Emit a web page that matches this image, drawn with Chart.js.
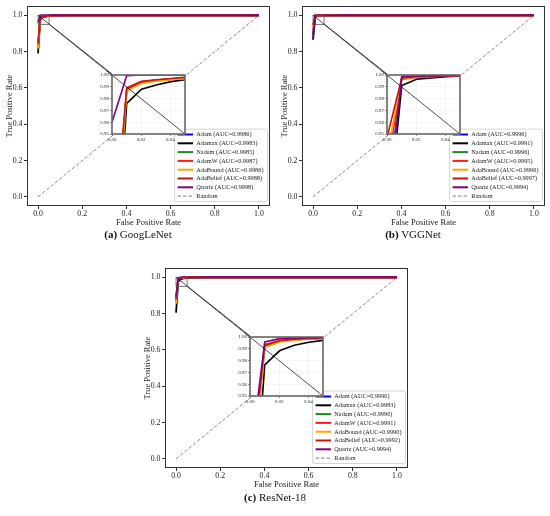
<!DOCTYPE html>
<html lang="en">
<head>
<meta charset="UTF-8">
<title>ROC curves</title>
<script src="https://cdn.jsdelivr.net/npm/chart.js"></script>
<style>
    body { margin: 0; background: #fff; }
    #fig { position: relative; width: 550px; height: 516px; overflow: hidden; }
    .panel { position: absolute; width: 275px; height: 232px; }
    .panel canvas { position: absolute; left: 0; top: 0; }
    .caption {
        position: absolute;
        width: 200px;
        margin-left: -100px;
        text-align: center;
        font-family: 'Liberation Serif', serif;
        font-size: 11px;
        line-height: 12px;
        color: #111;
    }
</style>
</head>
<body>
<div id="fig">
    <div class="panel" id="panelA" style="left:0;top:0"><canvas id="mainA" width="275" height="232"></canvas></div>
    <div class="panel" id="panelB" style="left:275px;top:0"><canvas id="mainB" width="275" height="232"></canvas></div>
    <div class="panel" id="panelC" style="left:138px;top:262px"><canvas id="mainC" width="275" height="232"></canvas></div>
    <div class="caption" style="left:138px;top:228px"><b>(a)</b> GoogLeNet</div>
    <div class="caption" style="left:413px;top:228px"><b>(b)</b> VGGNet</div>
    <div class="caption" style="left:275px;top:491px"><b>(c)</b> ResNet-18</div>
</div>
<script>
// ---- data ----
const optimizers = ['Adam', 'Adamax', 'Nadam', 'AdamW', 'AdaBound', 'AdaBelief', 'Quartz'];
const lineColors = ['#0000ff', '#000000', '#1a8c1a', '#ff1a1a', '#ffa500', '#c01818', '#800080'];
const fpr = [0, 0.0101, 0.0202, 0.0303, 0.0404, 0.0505, 0.0707, 0.101, 0.141, 1];
const randomFpr = [0, 1];
const randomTpr = [0, 1];

// (a) GoogLeNet
const googAuc = ['0.9986', '0.9983', '0.9985', '0.9987', '0.9986', '0.9988', '0.9998'];
const googAdam      = [0.82, 0.988, 0.994, 0.9955, 0.9965, 0.9975, 0.9983, 0.9992, 1, 1];
const googAdamax    = [0.79, 0.976, 0.988, 0.9916, 0.9944, 0.9962, 0.9975, 0.9988, 1, 1];
const googNadam     = [0.81, 0.987, 0.993, 0.995, 0.9962, 0.9972, 0.998, 0.999, 1, 1];
const googAdamW     = [0.83, 0.9885, 0.9942, 0.9958, 0.9968, 0.9978, 0.9985, 0.9993, 1, 1];
const googAdaBound  = [0.82, 0.9865, 0.9928, 0.9948, 0.996, 0.997, 0.998, 0.999, 1, 1];
const googAdaBelief = [0.845, 0.9892, 0.9946, 0.996, 0.997, 0.998, 0.9988, 0.9995, 1, 1];
const googQuartz    = [0.96, 0.9995, 1, 1, 1, 1, 1, 1, 1, 1];

// (b) VGGNet
const vggAuc = ['0.9996', '0.9991', '0.9996', '0.9995', '0.9996', '0.9997', '0.9994'];
const vggAdam      = [0.895, 0.998, 0.9985, 0.999, 0.9992, 0.9994, 0.9996, 0.9998, 1, 1];
const vggAdamax    = [0.865, 0.9911, 0.9964, 0.9976, 0.9986, 0.9992, 0.9995, 0.9998, 1, 1];
const vggNadam     = [0.893, 0.9978, 0.9984, 0.9988, 0.9991, 0.9993, 0.9996, 0.9998, 1, 1];
const vggAdamW     = [0.921, 0.9965, 0.998, 0.9986, 0.999, 0.9993, 0.9996, 0.9998, 1, 1];
const vggAdaBound  = [0.933, 0.997, 0.9982, 0.9988, 0.9991, 0.9994, 0.9996, 0.9998, 1, 1];
const vggAdaBelief = [0.947, 0.9975, 0.9985, 0.999, 0.9993, 0.9995, 0.9997, 0.9999, 1, 1];
const vggQuartz    = [0.879, 0.9989, 0.9992, 0.9994, 0.9995, 0.9996, 0.9997, 0.9998, 1, 1];

// (c) ResNet-18
const resAuc = ['0.9990', '0.9983', '0.9990', '0.9991', '0.9990', '0.9992', '0.9994'];
const resAdam      = [0.87, 0.9925, 0.9965, 0.9978, 0.9985, 0.999, 0.9994, 0.9997, 1, 1];
const resAdamax    = [0.805, 0.9763, 0.9883, 0.993, 0.9955, 0.9972, 0.9985, 0.9993, 1, 1];
const resNadam     = [0.865, 0.992, 0.9963, 0.9977, 0.9984, 0.9989, 0.9993, 0.9997, 1, 1];
const resAdamW     = [0.875, 0.993, 0.9968, 0.998, 0.9986, 0.999, 0.9994, 0.9997, 1, 1];
const resAdaBound  = [0.855, 0.991, 0.9955, 0.9972, 0.9982, 0.9987, 0.9992, 0.9996, 1, 1];
const resAdaBelief = [0.88, 0.9935, 0.997, 0.9982, 0.9988, 0.9992, 0.9995, 0.9998, 1, 1];
const resQuartz    = [0.895, 0.9958, 0.9986, 0.9992, 0.9995, 0.9997, 0.9998, 0.9999, 1, 1];

// ticks and zoom window
const mainTicks = [0, 0.2, 0.4, 0.6, 0.8, 1.0];
const mainTickLabels = ['0.0', '0.2', '0.4', '0.6', '0.8', '1.0'];
const zoomX = [0, 0.05];
const zoomY = [0.95, 1.0];
const insetTicksX = [0, 0.02, 0.04];
const insetTickLabelsX = ['0.00', '0.02', '0.04'];
const insetTicksY = [0.95, 0.96, 0.97, 0.98, 0.99, 1.0];
const insetTickLabelsY = ['0.95', '0.96', '0.97', '0.98', '0.99', '1.00'];

// ---- layout ----
const serif = "'Liberation Serif', 'Times New Roman', serif";
const insetBounds = [0.35, 0.36, 0.3, 0.3];   // axes fraction: left, bottom, width, height
const inPad = { l: 20, t: 3, r: 3, b: 10 };

function points(xs, ys) {
    return xs.map((x, i) => ({ x: x, y: ys[i] }));
}

function buildSets(curves, aucs, width, withRandom) {
    const sets = curves.map((ys, i) => ({
        label: optimizers[i] + ' (AUC=' + aucs[i] + ')',
        data: points(fpr, ys),
        borderColor: lineColors[i],
        borderWidth: width,
        pointRadius: 0,
        tension: 0,
        clip: 0,
        order: curves.length - i + 1
    }));
    if (withRandom) {
        sets.push({
            label: 'Random',
            data: points(randomFpr, randomTpr),
            borderColor: '#808080',
            borderWidth: 0.9,
            borderDash: [3.5, 2],
            pointRadius: 0,
            order: 0
        });
    }
    return sets;
}

function insetRect(area) {
    const w = area.right - area.left, h = area.bottom - area.top;
    return {
        left: Math.round(area.left + insetBounds[0] * w),
        right: Math.round(area.left + (insetBounds[0] + insetBounds[2]) * w),
        bottom: Math.round(area.bottom - insetBounds[1] * h),
        top: Math.round(area.bottom - (insetBounds[1] + insetBounds[3]) * h)
    };
}

function roundBox(ctx, x, y, w, h, r) {
    ctx.beginPath();
    ctx.moveTo(x + r, y);
    ctx.arcTo(x + w, y, x + w, y + h, r);
    ctx.arcTo(x + w, y + h, x, y + h, r);
    ctx.arcTo(x, y + h, x, y, r);
    ctx.arcTo(x, y, x + w, y, r);
    ctx.closePath();
}

function drawLegend(chart) {
    const ctx = chart.ctx, a = chart.chartArea;
    const sets = chart.data.datasets;
    const rowH = 8.8, sample = 15.5, gap = 3.2;
    ctx.save();
    ctx.font = '6.3px ' + serif;
    let tw = 0;
    sets.forEach(d => { tw = Math.max(tw, ctx.measureText(d.label).width); });
    const w = 3 + sample + gap + tw + 4;
    const h = sets.length * rowH + 2;
    const x = a.right - 2.5 - w, y = a.bottom - 4.5 - h;
    roundBox(ctx, x, y, w, h, 2);
    ctx.fillStyle = 'rgba(255,255,255,0.85)';
    ctx.fill();
    ctx.strokeStyle = '#cccccc';
    ctx.lineWidth = 0.8;
    ctx.stroke();
    sets.forEach((d, i) => {
        const cy = y + 1 + rowH * (i + 0.5);
        ctx.beginPath();
        ctx.setLineDash(d.borderDash || []);
        ctx.strokeStyle = d.borderColor;
        ctx.lineWidth = d.borderDash ? 1 : 2;
        ctx.moveTo(x + 3, cy);
        ctx.lineTo(x + 3 + sample, cy);
        ctx.stroke();
        ctx.setLineDash([]);
        ctx.fillStyle = '#222';
        ctx.textBaseline = 'middle';
        ctx.textAlign = 'left';
        ctx.fillText(d.label, x + 3 + sample + gap, cy + 0.3);
    });
    ctx.restore();
}

const mainPlugin = {
    id: 'mainExtras',
    afterDraw(chart) {
        const ctx = chart.ctx, a = chart.chartArea;
        const xs = chart.scales.x, ys = chart.scales.y;
        const zl = xs.getPixelForValue(zoomX[0]), zr = xs.getPixelForValue(zoomX[1]);
        const zt = ys.getPixelForValue(zoomY[1]), zb = ys.getPixelForValue(zoomY[0]);
        const r = insetRect(a);
        ctx.save();
        // zoom window
        ctx.strokeStyle = '#555';
        ctx.lineWidth = 0.8;
        ctx.strokeRect(zl, zt, zr - zl, zb - zt);
        drawLegend(chart);
        // connectors: upper-left to upper-left, lower-right to lower-right
        ctx.strokeStyle = '#222';
        ctx.lineWidth = 0.8;
        ctx.beginPath();
        ctx.moveTo(zl, zt); ctx.lineTo(r.left, r.top);
        ctx.moveTo(zr, zb); ctx.lineTo(r.right, r.bottom);
        ctx.stroke();
        // frame
        ctx.strokeStyle = '#333';
        ctx.lineWidth = 1;
        ctx.strokeRect(Math.round(a.left) + 0.5, Math.round(a.top) + 0.5,
            Math.round(a.right - a.left) - 1, Math.round(a.bottom - a.top) - 1);
        ctx.restore();
    }
};

function scaleOpts(axis, min, max, ticks, labels, size, fitSize, grid, pad) {
    return {
        type: 'linear',
        min: min,
        max: max,
        afterBuildTicks: s => { s.ticks = ticks.map(v => ({ value: v })); },
        afterFit: s => { if (axis === 'x') s.height = fitSize; else s.width = fitSize; },
        ticks: {
            callback: (v, i) => labels[i],
            font: { family: serif, size: size },
            color: '#222',
            padding: pad,
            maxRotation: 0,
            autoSkip: false
        },
        grid: grid,
        border: { display: false }
    };
}

function makePanel(panelId, canvasId, curves, aucs) {
    const panel = document.getElementById(panelId);
    const mainGrid = { drawOnChartArea: false, tickLength: 3, tickColor: '#333', color: '#333' };
    const xOpt = scaleOpts('x', -0.05, 1.05, mainTicks, mainTickLabels, 7.8, 26, mainGrid, 0.5);
    xOpt.title = { display: true, text: 'False Positive Rate', color: '#222',
        font: { family: serif, size: 8.5 }, padding: { top: 0, bottom: 4.5 } };
    const yOpt = scaleOpts('y', -0.05, 1.05, mainTicks, mainTickLabels, 7.8, 27, mainGrid, 1.5);
    yOpt.title = { display: true, text: 'True Positive Rate', color: '#222',
        font: { family: serif, size: 8.5 }, padding: { top: 4.5, bottom: 0 } };

    const main = new Chart(document.getElementById(canvasId), {
        type: 'line',
        data: { datasets: buildSets(curves, aucs, 1.8, true) },
        options: {
            responsive: false,
            animation: false,
            layout: { padding: { top: 5, right: 5, left: 0, bottom: 0 } },
            plugins: { legend: { display: false }, tooltip: { enabled: false } },
            scales: { x: xOpt, y: yOpt }
        },
        plugins: [mainPlugin]
    });

    // inset axes, placed from the main chart's area
    const r = insetRect(main.chartArea);
    const cw = r.right - r.left + inPad.l + inPad.r;
    const ch = r.bottom - r.top + inPad.t + inPad.b;
    const offX = r.left - inPad.l, offY = r.top - inPad.t;
    const from = {
        x: main.scales.x.getPixelForValue(zoomX[1]) - offX,
        y: main.scales.y.getPixelForValue(zoomY[0]) - offY
    };
    const cv = document.createElement('canvas');
    cv.width = cw; cv.height = ch;
    cv.style.left = offX + 'px';
    cv.style.top = offY + 'px';
    panel.appendChild(cv);

    const insetGrid = { color: '#ececec', lineWidth: 0.6, tickLength: 2, tickColor: '#444' };
    new Chart(cv, {
        type: 'line',
        data: { datasets: buildSets(curves, aucs, 1.6, false) },
        options: {
            responsive: false,
            animation: false,
            layout: { padding: { top: inPad.t, right: inPad.r, left: 0, bottom: 0 } },
            plugins: { legend: { display: false }, tooltip: { enabled: false } },
            scales: {
                x: scaleOpts('x', zoomX[0], zoomX[1], insetTicksX, insetTickLabelsX, 5, inPad.b, insetGrid, 1),
                y: scaleOpts('y', zoomY[0], zoomY[1], insetTicksY, insetTickLabelsY, 5, inPad.l, insetGrid, 1)
            }
        },
        plugins: [{
            id: 'insetExtras',
            beforeDraw(chart) {
                const a = chart.chartArea, ctx = chart.ctx;
                ctx.save();
                ctx.fillStyle = '#fff';
                ctx.fillRect(a.left, a.top, a.right - a.left, a.bottom - a.top);
                ctx.restore();
            },
            afterDraw(chart) {
                const a = chart.chartArea, ctx = chart.ctx;
                ctx.save();
                ctx.strokeStyle = '#222';
                ctx.lineWidth = 0.8;
                ctx.beginPath();
                ctx.moveTo(from.x, from.y);
                ctx.lineTo(a.right, a.bottom);
                ctx.stroke();
                ctx.strokeStyle = '#666';
                ctx.lineWidth = 1.6;
                ctx.strokeRect(a.left, a.top, a.right - a.left, a.bottom - a.top);
                ctx.restore();
            }
        }]
    });
}

makePanel('panelA', 'mainA',
    [googAdam, googAdamax, googNadam, googAdamW, googAdaBound, googAdaBelief, googQuartz], googAuc);
makePanel('panelB', 'mainB',
    [vggAdam, vggAdamax, vggNadam, vggAdamW, vggAdaBound, vggAdaBelief, vggQuartz], vggAuc);
makePanel('panelC', 'mainC',
    [resAdam, resAdamax, resNadam, resAdamW, resAdaBound, resAdaBelief, resQuartz], resAuc);
</script>
</body>
</html>
